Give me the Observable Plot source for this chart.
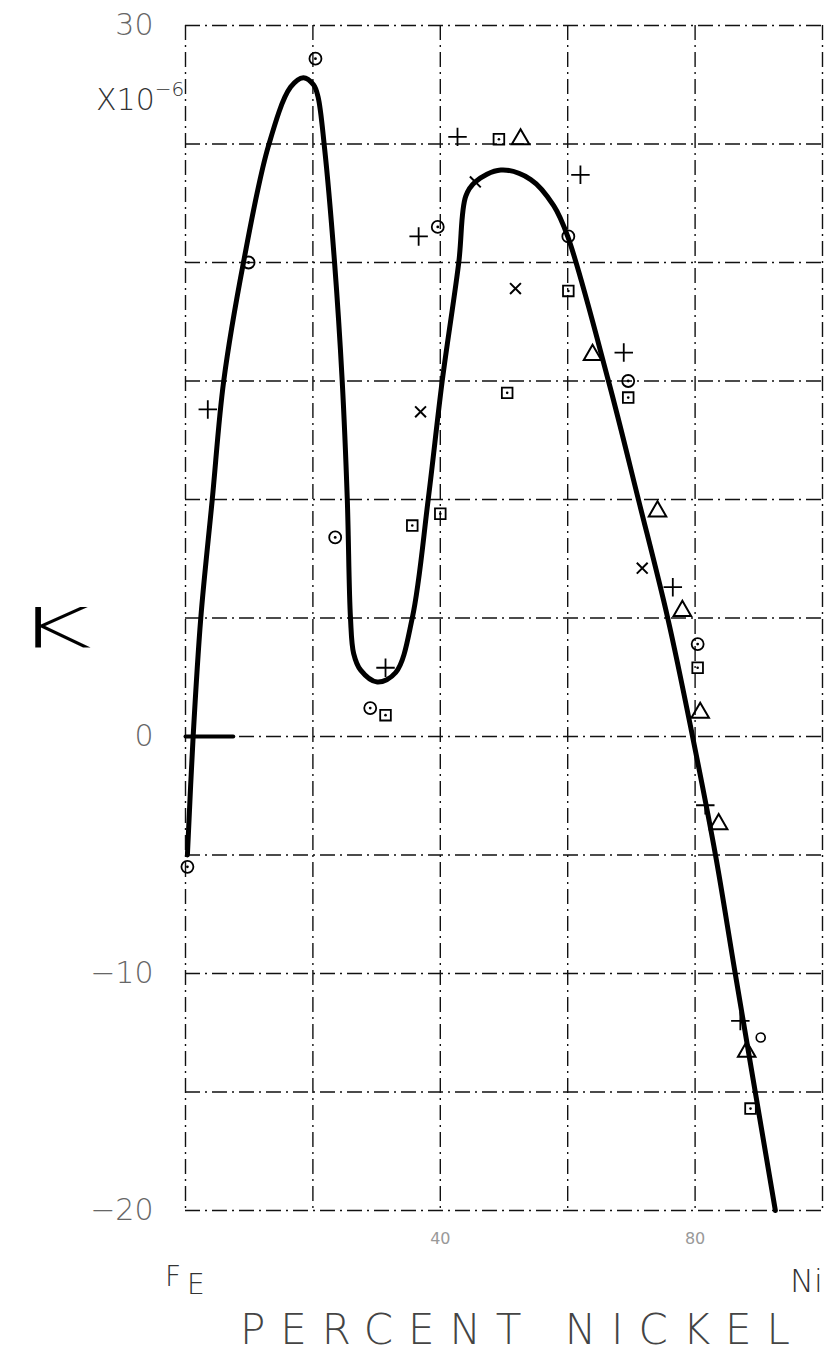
<!DOCTYPE html>
<html><head><meta charset="utf-8">
<script src="https://cdn.jsdelivr.net/npm/d3@7"></script>
<script src="https://cdn.jsdelivr.net/npm/@observablehq/plot@0.6"></script>
<style>html,body{margin:0;padding:0;background:#fff;} svg{display:block}</style>
</head><body><div id="chart"></div>
<script>
// grid & tick values
const xGrid = [0, 20, 40, 60, 80, 100];
const yGrid = [30, 25, 20, 15, 10, 5, 0, -5, -10, -15, -20];
const yTickLabels = [30, 0, -10, -20];
const xTickLabels = [40, 80];

// smooth curve (percent Ni, K x10^-6)
const curveNi = [0.3, 1.2, 2.4, 4.2, 6.0, 9.1, 13.0, 16.5, 18.5, 20.1, 20.8, 21.8, 23.4, 24.6, 25.4, 25.9, 26.4, 27.5, 30.1, 33.0, 35.6, 38.1, 40.3, 42.9, 44.0, 45.5, 49.5, 54.2, 57.8, 60.0, 66.4, 71.1, 75.7, 79.6, 83.2, 86.3, 92.6];
const curveK  = [-5.0, 0, 5, 10, 15, 20, 24.9, 27.4, 27.8, 27.5, 27.0, 24.9, 20, 15, 10, 5, 3.5, 2.8, 2.3, 2.7, 5, 10, 15, 20, 22.8, 23.4, 23.9, 23.5, 22.4, 21.1, 15, 10, 5, 0, -5, -10, -20];

// short heavy stroke at zero
const zeroNi = [0, 7.5];
const zeroK = [0, 0];

// measured points by symbol
const circleNi = [20.4, 9.9, 39.6, 60.1, 23.5, 29.0, 69.5, 80.4, 0.3];
const circleK  = [28.6, 20.0, 21.5, 21.1, 8.4, 1.2, 15.0, 3.9, -5.5];
const openNi = [90.3];
const openK  = [-12.7];
const plusNi = [3.5, 36.6, 42.7, 62.0, 68.8, 31.4, 76.5, 81.6, 87.1];
const plusK  = [13.8, 21.1, 25.3, 23.7, 16.2, 2.9, 6.3, -2.9, -12.0];
const timesNi = [36.9, 45.5, 51.8, 71.7];
const timesK  = [13.7, 23.4, 18.9, 7.1];
const squareNi = [49.2, 60.1, 50.5, 35.6, 40.0, 31.4, 69.5, 80.4, 88.7];
const squareK  = [25.2, 18.8, 14.5, 8.9, 9.4, 0.9, 14.3, 2.9, -15.7];
const triNi = [52.6, 63.9, 74.1, 78.0, 80.8, 83.7, 88.1];
const triK  = [25.2, 16.1, 9.5, 5.3, 1.0, -3.7, -13.3];

const pts = (xs, ys) => xs.map((x, i) => ({x, y: ys[i]}));
const curve = pts(curveNi, curveK);
const zero = pts(zeroNi, zeroK);
const circles = pts(circleNi, circleK);
const opens = pts(openNi, openK);
const pluses = pts(plusNi, plusK);
const timeses = pts(timesNi, timesK);
const squares = pts(squareNi, squareK);
const tris = pts(triNi, triK);

const font = "'DejaVu Sans', sans-serif";
const dash = "15,5,2,5";

const chart = Plot.plot({
  width: 828,
  height: 1357,
  marginLeft: 185,
  marginRight: 6,
  marginTop: 25,
  marginBottom: 147,
  style: {background: "#fff", fontFamily: font},
  x: {domain: [0, 100], axis: null},
  y: {domain: [-20, 30], axis: null},
  marks: [
    Plot.ruleX(xGrid, {stroke: "#111", strokeWidth: 1.4, strokeDasharray: dash}),
    Plot.ruleY(yGrid, {stroke: "#111", strokeWidth: 1.4, strokeDasharray: dash}),
    Plot.axisY(yTickLabels, {anchor: "left", tickSize: 0, tickPadding: 32, fontSize: 30, fill: "#666", fontWeight: 200, label: null}),
    Plot.axisX(xTickLabels, {anchor: "bottom", tickSize: 0, tickPadding: 22, fontSize: 16, fill: "#999", label: null}),
    Plot.line(zero, {x: "x", y: "y", stroke: "#000", strokeWidth: 4}),
    Plot.line(curve, {x: "x", y: "y", curve: "catmull-rom", stroke: "#000", strokeWidth: 5}),
    Plot.dot(circles, {x: "x", y: "y", r: 6, stroke: "#000", strokeWidth: 1.8, fill: "none"}),
    Plot.dot(circles, {x: "x", y: "y", r: 1.4, fill: "#000"}),
    Plot.dot(opens, {x: "x", y: "y", r: 4.5, stroke: "#000", strokeWidth: 1.6, fill: "none"}),
    Plot.dot(pluses, {x: "x", y: "y", symbol: "plus", r: 6, stroke: "#000", strokeWidth: 1.8, fill: "none"}),
    Plot.dot(timeses, {x: "x", y: "y", symbol: "times", r: 5, stroke: "#000", strokeWidth: 2, fill: "none"}),
    Plot.dot(squares, {x: "x", y: "y", symbol: "square", r: 6, stroke: "#000", strokeWidth: 1.8, fill: "none"}),
    Plot.dot(squares, {x: "x", y: "y", r: 1.3, fill: "#000"}),
    Plot.dot(tris, {x: "x", y: "y", symbol: "triangle", r: 6.5, stroke: "#000", strokeWidth: 2, fill: "none"})
  ]
});

const svg = d3.select(chart);
// unit label
const u = svg.append("text").attr("x", 96).attr("y", 110).attr("text-anchor", "start")
  .attr("font-family", font).attr("font-weight", 200).attr("fill", "#333").attr("font-size", 30);
u.append("tspan").text("X10");
u.append("tspan").attr("dy", -14).attr("font-size", 20).text("−6");
// K
svg.append("text").attr("x", 15).attr("y", 647).attr("text-anchor", "start")
  .attr("font-family", font).attr("font-weight", 300).attr("font-size", 55)
  .attr("textLength", 77).attr("lengthAdjust", "spacingAndGlyphs").attr("fill", "#000").text("K");
// Fe / Ni
const fe = svg.append("text").attr("x", 165).attr("y", 1286).attr("text-anchor", "start")
  .attr("font-family", font).attr("font-weight", 200).attr("font-size", 28).attr("fill", "#333");
fe.append("tspan").text("F");
fe.append("tspan").attr("dy", 8).attr("dx", 6).text("E");
svg.append("text").attr("x", 790).attr("y", 1292).attr("text-anchor", "start")
  .attr("font-family", font).attr("font-weight", 200).attr("font-size", 32).attr("fill", "#333").text("Ni");
// axis title
svg.append("text").attr("x", 240).attr("y", 1344).attr("text-anchor", "start")
  .attr("font-family", font).attr("font-weight", 200).attr("font-size", 42)
  .attr("textLength", 550).attr("lengthAdjust", "spacing").attr("fill", "#444").text("PERCENT NICKEL");

document.getElementById("chart").appendChild(chart);
</script></body></html>
